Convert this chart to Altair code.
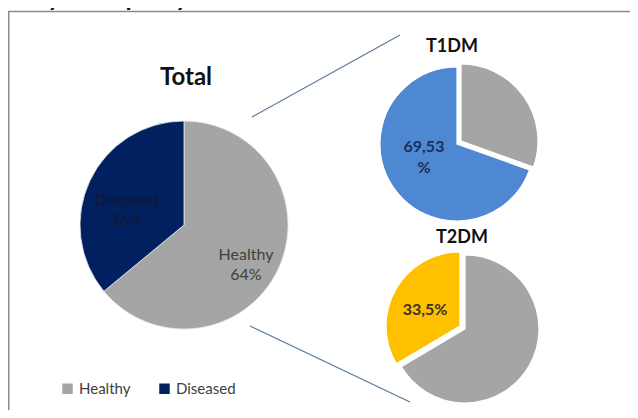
import altair as alt
import pandas as pd

# ---- data ----
status = ["Healthy", "Diseased"]
total_values = [64, 36]
t1dm_values = [30.47, 69.53]
t2dm_values = [66.5, 33.5]
total_labels = ["Healthy\n64%", "Diseased\n36%"]
t1dm_label = "69,53\n%"
t2dm_label = "33,5%"

GRAY = "#a5a5a5"
NAVY = "#002060"
BLUE = "#4f88d2"
YELLOW = "#ffc000"
FONT = "Lato"


def pie_df(values):
    return pd.DataFrame({"status": status, "value": values, "order": list(range(len(values)))})


def with_angles(chart):
    return (
        chart.transform_joinaggregate(total="sum(value)")
        .transform_window(cum="sum(value)", sort=[alt.SortField("order")], frame=[None, 0])
        .transform_calculate(
            t0="(datum.cum - datum.value) / datum.total * 2 * PI",
            t1="datum.cum / datum.total * 2 * PI",
        )
    )


def slice_layer(values, which, cx, cy, r, fill, dx=0, dy=0):
    base = with_angles(alt.Chart(pie_df(values)))
    return (
        base.transform_filter(alt.datum.status == which)
        .mark_arc(outerRadius=r, xOffset=dx, yOffset=dy, stroke="white", strokeWidth=1.2)
        .encode(
            x=alt.value(cx),
            y=alt.value(cy),
            theta=alt.Theta("t0:Q", scale=None),
            theta2="t1:Q",
            fill=alt.value(fill),
        )
    )


def text_layer(txt, x, y, size, weight="normal", color="#404040", align="center", line_height=20):
    return alt.Chart(pd.DataFrame({"t": [txt]})).mark_text(
        font=FONT,
        fontSize=size,
        fontWeight=weight,
        color=color,
        align=align,
        baseline="alphabetic",
        lineBreak="\n",
        lineHeight=line_height,
    ).encode(x=alt.value(x), y=alt.value(y), text="t:N")


def rule(x, y, x2, y2, color, width):
    return alt.Chart(pd.DataFrame({"a": [0]})).mark_rule(color=color, strokeWidth=width).encode(
        x=alt.value(x), y=alt.value(y), x2=alt.value(x2), y2=alt.value(y2)
    )


# frame (left and top edges; the rest lies outside the picture)
frame_top = rule(0, 3.5, 622, 3.5, "#8c8c8c", 1.5)
frame_left = rule(0.75, 3.5, 0.75, 402, "#8c8c8c", 1.5)

# total pie
total_pie = with_angles(alt.Chart(pie_df(total_values))).mark_arc(
    outerRadius=104, stroke="#e8e8e8", strokeWidth=0.8
).encode(
    x=alt.value(176),
    y=alt.value(217),
    theta=alt.Theta("t0:Q", scale=None),
    theta2="t1:Q",
    color=alt.Color(
        "status:N",
        scale=alt.Scale(domain=status, range=[GRAY, NAVY]),
        legend=alt.Legend(
            orient="none",
            legendX=52,
            legendY=373,
            direction="horizontal",
            title=None,
            symbolType="square",
            symbolSize=110,
            symbolStrokeWidth=0,
            labelFont=FONT,
            labelFontSize=15,
            labelColor="#404040",
            labelOffset=4,
            columnPadding=26,
            padding=0,
        ),
    ),
)

# T1DM pie
t1_main = slice_layer(t1dm_values, "Diseased", 449, 136, 77, BLUE)
t1_expl = slice_layer(t1dm_values, "Healthy", 449, 136, 77, GRAY, dx=4, dy=-3)

# T2DM pie
t2_main = slice_layer(t2dm_values, "Healthy", 457, 321, 74, GRAY)
t2_expl = slice_layer(t2dm_values, "Diseased", 457, 321, 74, YELLOW, dx=-5, dy=-3)

# connector lines
line_top = rule(244, 109, 392, 27, "#5a7897", 1.2)
line_bot = rule(242, 318, 402, 394, "#5a7897", 1.2)

texts = [
    text_layer("Polyneuropathy", 4, -2, 25, "bold", "#111111", align="left"),
    text_layer("Total", 178, 77, 24, "bold", "#111111"),
    text_layer("T1DM", 444, 44, 18, "bold", "#111111"),
    text_layer("T2DM", 454, 235, 18, "bold", "#111111"),
    text_layer(t1dm_label, 416, 144, 16, "bold", "#1f2d5a", line_height=21),
    text_layer(t2dm_label, 417, 307, 16, "bold", "#3a3020"),
    text_layer(total_labels[0], 238, 252, 16, "normal", "#404040"),
    text_layer(total_labels[1], 118, 197, 16, "normal", "#101830"),
]

chart = alt.layer(
    frame_top, frame_left, total_pie, t1_main, t1_expl, t2_main, t2_expl, line_top, line_bot, *texts
).properties(
    width=622, height=402, autosize="none", padding=0
).configure_view(stroke=None)

chart.save("out.html", embed_options={"renderer": "svg", "actions": False})
